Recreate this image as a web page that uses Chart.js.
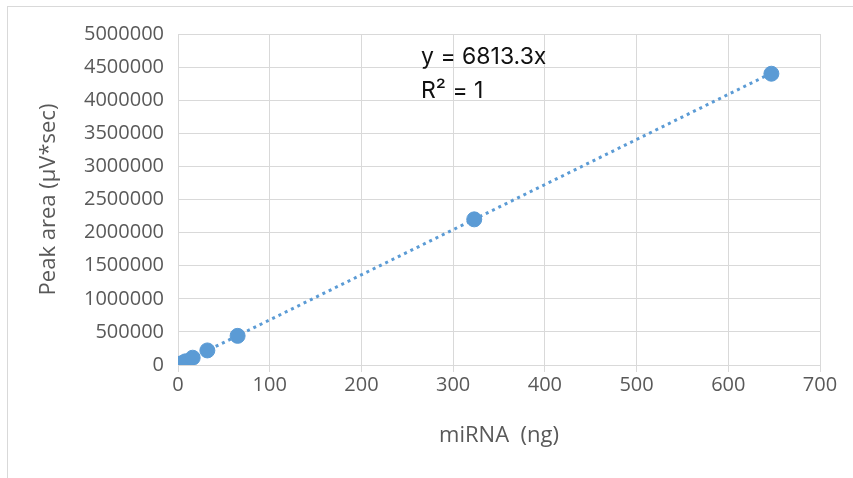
<!DOCTYPE html>
<html>
<head>
<meta charset="utf-8">
<script src="https://cdn.jsdelivr.net/npm/chart.js@4.4.0/dist/chart.umd.min.js"></script>
<style>
  html, body { margin: 0; padding: 0; background: #fff; }
  #wrap { width: 853px; height: 478px; position: relative; }
</style>
</head>
<body>
<div id="wrap"><canvas id="chart" width="853" height="478"></canvas></div>
<script>
// 測定値（miRNA 量とピーク面積）
const miRNA = [1, 2, 4, 8, 16, 32, 65, 323, 647];
const peakArea = [7000, 14000, 27000, 55000, 110000, 220000, 440000, 2200000, 4400000];

// 近似直線 y = 6813.3x の両端
const trendX = [0, 647];
const trendY = [0, 4408000];

const xTicks = [0, 100, 200, 300, 400, 500, 600, 700];
const yTicks = [0, 500000, 1000000, 1500000, 2000000, 2500000, 3000000, 3500000, 4000000, 4500000, 5000000];

const eqText = 'y = 6813.3x';
const r2Text = 'R² = 1';

const blue = '#5B9BD5';
const grey = '#595959';
const gridColor = '#d9d9d9';

const points = miRNA.map((x, i) => ({ x: x, y: peakArea[i] }));
const trend = trendX.map((x, i) => ({ x: x, y: trendY[i] }));

// 枠線と式のテキスト
const decor = {
    id: 'decor',
    beforeDraw(chart) {
        const ctx = chart.ctx;
        ctx.save();
        ctx.strokeStyle = '#d9d9d9';
        ctx.lineWidth = 1;
        ctx.strokeRect(7.5, 6.5, 860, 480);
        ctx.restore();
    },
    afterDraw(chart) {
        const ctx = chart.ctx;
        ctx.save();
        ctx.fillStyle = '#111';
        ctx.font = '23px Inter, "Noto Sans", sans-serif';
        ctx.textBaseline = 'alphabetic';
        ctx.fillText(eqText, 421, 64);
        ctx.fillText(r2Text, 421, 98);
        ctx.restore();
    }
};

new Chart(document.getElementById('chart'), {
    type: 'scatter',
    data: {
        datasets: [
            {
                label: 'trend',
                data: trend,
                showLine: true,
                borderColor: blue,
                borderWidth: 3,
                borderDash: [3, 4],
                pointRadius: 0,
                order: 2
            },
            {
                label: 'miRNA',
                data: points,
                backgroundColor: blue,
                borderColor: blue,
                pointRadius: 7.5,
                pointHoverRadius: 7.5,
                order: 1
            }
        ]
    },
    options: {
        responsive: false,
        animation: false,
        layout: { padding: { left: 32, top: 34, right: 33, bottom: 25 } },
        plugins: { legend: { display: false }, tooltip: { enabled: false } },
        scales: {
            x: {
                type: 'linear',
                min: 0,
                max: 700,
                afterBuildTicks: s => { s.ticks = xTicks.map(v => ({ value: v })); },
                grid: { color: gridColor, tickLength: 7, drawTicks: true },
                border: { display: false },
                ticks: { color: grey, font: { size: 20, family: '"Open Sans", sans-serif' }, padding: 1 },
                title: { display: true, text: 'miRNA  (ng)', color: grey, font: { size: 22, family: '"Open Sans", sans-serif' }, padding: { top: 20 } },
                afterFit: s => { s.height = 88; }
            },
            y: {
                min: 0,
                max: 5000000,
                afterBuildTicks: s => { s.ticks = yTicks.map(v => ({ value: v })); },
                grid: { color: gridColor, drawTicks: false },
                border: { display: false },
                ticks: { color: grey, font: { size: 20, family: '"Open Sans", sans-serif' }, padding: 14, callback: v => String(v) },
                title: { display: true, text: 'Peak area (μV*sec)', color: grey, font: { size: 22, family: '"Open Sans", sans-serif' } },
                afterFit: s => { s.width = 146; }
            }
        }
    },
    plugins: [decor]
});
</script>
</body>
</html>
